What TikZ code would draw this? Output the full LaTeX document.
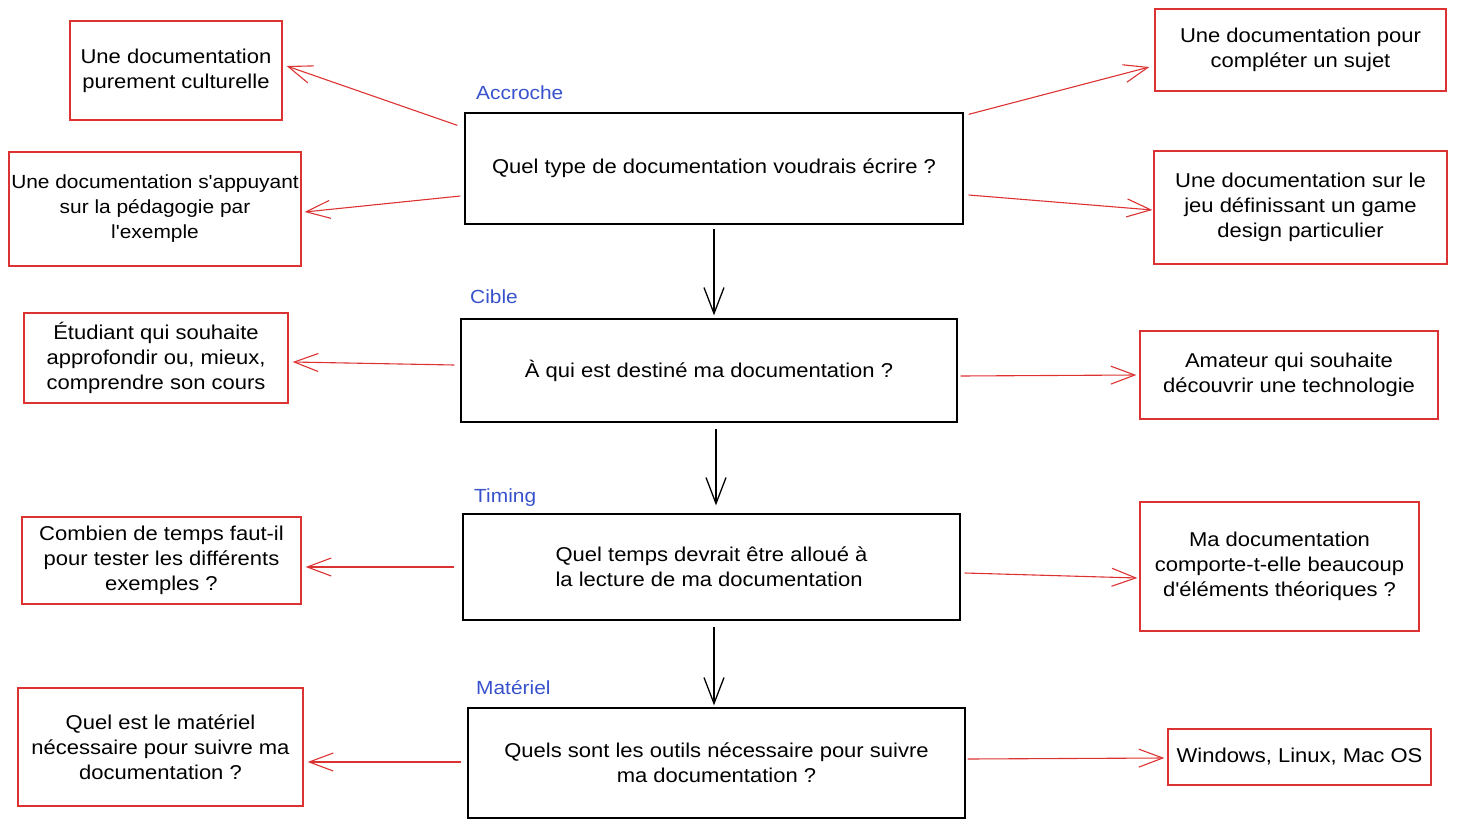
\documentclass[tikz,border=0pt]{standalone}
\usepackage{fontspec}
\setmainfont{Liberation Sans}[FakeStretch=1.1, Ligatures=TeXOff]
\usetikzlibrary{arrows.meta,calc}
\definecolor{sred}{RGB}{220,50,50}
\definecolor{sblue}{RGB}{56,82,205}
\begin{document}
\begin{tikzpicture}[x=1pt,y=-1pt,
  txt/.style={font=\fontsize{20}{25}\selectfont, align=center, inner sep=0pt},
  cbox/.style={txt, draw=black, line width=1.3pt},
  sbox/.style={txt, draw=sred, line width=1.3pt},
  lbl/.style={font=\fontsize{19}{22}\selectfont, text=sblue, anchor=west, inner sep=0pt},
  redarr/.style={draw=sred, line width=1.1pt, -{Straight Barb[length=24pt,width=18pt,line width=1.1pt]}},
  blkarr/.style={draw=black, line width=1.3pt, -{Straight Barb[length=26pt,width=20pt,line width=1.3pt]}}
]
\useasboundingbox (0,0) rectangle (1457,827);
% central boxes
\node[cbox, minimum width=498pt, minimum height=111pt] (b1) at (714,168.5) {Quel type de documentation voudrais écrire ?};
\node[cbox, minimum width=496pt, minimum height=103pt] (b2) at (709,370.5) {À qui est destiné ma documentation ?};
\node[cbox, minimum width=497pt, minimum height=106pt, align=left] (b3) at (711.5,567) {Quel temps devrait être alloué à\\la lecture de ma documentation};
\node[cbox, minimum width=497pt, minimum height=110pt] (b4) at (716.5,763) {Quels sont les outils nécessaire pour suivre\\ma documentation ?};
% labels
\node[lbl] (t1) at (476,93) {Accroche};
\node[lbl] (t2) at (470,297) {Cible};
\node[lbl] (t3) at (474,498) {Timing};
\node[lbl] (t4) at (476,688) {Matériel};
% left boxes
\node[sbox, minimum width=212pt, minimum height=99pt] (l1) at (176,70.5) {Une documentation\\purement culturelle};
\node[sbox, minimum width=292pt, minimum height=114pt, font=\fontsize{19}{25}\selectfont] (l2) at (155,209) {Une documentation s'appuyant\\sur la pédagogie par\\l'exemple};
\node[sbox, minimum width=264pt, minimum height=90pt] (l3) at (156,358) {Étudiant qui souhaite\\approfondir ou, mieux,\\comprendre son cours};
\node[sbox, minimum width=279pt, minimum height=87pt] (l4) at (161.5,560.5) {Combien de temps faut-il\\pour tester les différents\\exemples ?};
\node[sbox, minimum width=285pt, minimum height=118pt] (l5) at (160.5,747) {Quel est le matériel\\nécessaire pour suivre ma\\documentation ?};
% right boxes
\node[sbox, minimum width=291pt, minimum height=82pt] (r1) at (1300.5,50) {Une documentation pour\\compléter un sujet};
\node[sbox, minimum width=293pt, minimum height=113pt] (r2) at (1300.5,207.5) {Une documentation sur le\\jeu définissant un game\\design particulier};
\node[sbox, minimum width=298pt, minimum height=88pt] (r3) at (1289,375) {Amateur qui souhaite\\découvrir une technologie};
\node[sbox, minimum width=279pt, minimum height=129pt] (r4) at (1279.5,566.5) {Ma documentation\\comporte-t-elle beaucoup\\d'éléments théoriques ?};
\node[sbox, minimum width=263pt, minimum height=56pt] (r5) at (1299.5,757) {Windows, Linux, Mac OS};
% red arrows
\draw[redarr] ($(b1.north west)+(-7,13)$) -- ($(l1.east)+(4,-4.5)$);
\draw[redarr] ($(b1.west)+(-4,27.5)$) -- ($(l2.east)+(3,3)$);
\draw[redarr] ($(b1.north east)+(5,2)$) -- ($(r1.west)+(-5,17)$);
\draw[redarr] ($(b1.east)+(5,26.5)$) -- ($(r2.west)+(-1,2.5)$);
\draw[redarr] ($(b2.west)+(-6,-5.5)$) -- ($(l3.east)+(4,4)$);
\draw[redarr] ($(b2.east)+(3,5.5)$) -- ($(r3.west)+(-3,0)$);
\draw[redarr] ($(b3.west)+(-8,0)$) -- ($(l4.east)+(4,6.5)$);
\draw[redarr] ($(b3.east)+(4,6)$) -- ($(r4.west)+(-2,11.5)$);
\draw[redarr] ($(b4.west)+(-6,-1)$) -- ($(l5.east)+(4,15)$);
\draw[redarr] ($(b4.east)+(2,-4)$) -- ($(r5.west)+(-3,1)$);
% black arrows
\draw[blkarr] ($(b1.south)+(0,4)$) -- ($(b1.south |- b2.north)+(0,-3)$);
\draw[blkarr] ($(b2.south)+(7,6)$) -- ($(b2.south |- b3.north)+(7,-8)$);
\draw[blkarr] ($(b3.south)+(2.5,6)$) -- ($(b3.south |- b4.north)+(2.5,-2)$);
\end{tikzpicture}
\end{document}
